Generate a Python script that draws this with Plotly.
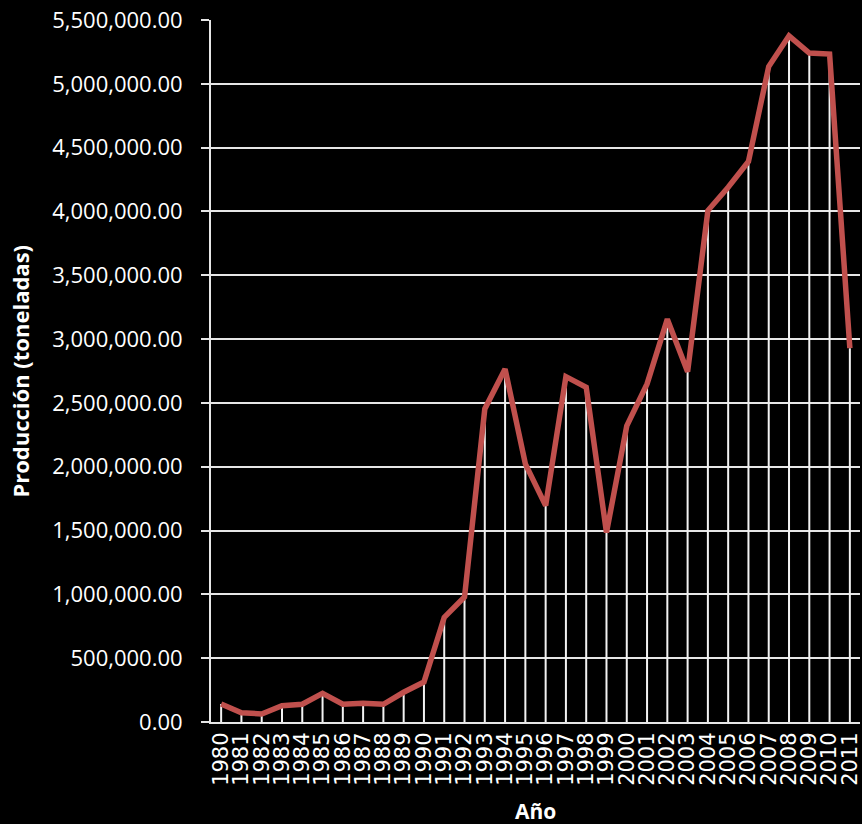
import plotly.graph_objects as go

years = [str(y) for y in range(1980, 2012)]
produccion = [
    141000, 73000, 63000, 128000, 139000, 225000, 139000, 147000, 139000, 233000,
    313000, 820000, 980000, 2453000, 2766000, 2022000, 1695000, 2706000, 2623000, 1484000,
    2320000, 2649000, 3156000, 2745000, 4007000, 4190000, 4391000, 5136000, 5376000, 5241000,
    5233000, 2929000,
]
y_ticks = [i * 500000 for i in range(12)]

fig = go.Figure()

# drop lines
fig.add_trace(go.Scatter(
    x=years, y=produccion, mode="markers",
    marker=dict(size=1, color="rgba(0,0,0,0)"),
    error_y=dict(type="data", symmetric=False, array=[0] * len(produccion),
                 arrayminus=produccion, width=0, thickness=2, color="#f2f2f2"),
    hoverinfo="skip", showlegend=False,
))
# main line
fig.add_trace(go.Scatter(
    x=years, y=produccion, mode="lines",
    line=dict(color="#C0504D", width=5.5),
    showlegend=False,
))

fig.update_layout(
    width=862, height=824,
    margin=dict(l=211, r=0, t=20, b=102),
    paper_bgcolor="black", plot_bgcolor="black",
    font=dict(color="white", family="Open Sans"),
    xaxis=dict(
        type="category", range=[-0.5, 31.5],
        tickmode="array", tickvals=years, ticktext=years,
        showgrid=False, showline=True, linecolor="#e6e6e6", linewidth=2,
        tickangle=-90, tickfont=dict(family="DejaVu Sans", size=21, color="white"),
        ticks="", zeroline=False,
    ),
    yaxis=dict(
        range=[0, 5500000], tickvals=y_ticks, tickformat=",.2f",
        showgrid=True, gridcolor="#e6e6e6", gridwidth=2,
        showline=True, linecolor="#e6e6e6", linewidth=2,
        ticks="outside", ticklen=8, tickcolor="#e6e6e6", tickwidth=2,
        ticklabelstandoff=14,
        tickfont=dict(family="Open Sans", size=22, color="white"),
        zeroline=False,
    ),
    annotations=[
        dict(text="<b>Año</b>", xref="paper", yref="paper", x=0.5, y=-(811 - 722) / 702,
             xanchor="center", yanchor="middle", showarrow=False,
             font=dict(family="Open Sans", size=21, color="white")),
        dict(text="<b>Producción (toneladas)</b>", xref="paper", yref="paper",
             x=-(211 - 19) / 651, y=0.5, xanchor="center", yanchor="middle",
             textangle=-90, showarrow=False,
             font=dict(family="Open Sans", size=22, color="white")),
    ],
)

fig.write_html("out.html")
